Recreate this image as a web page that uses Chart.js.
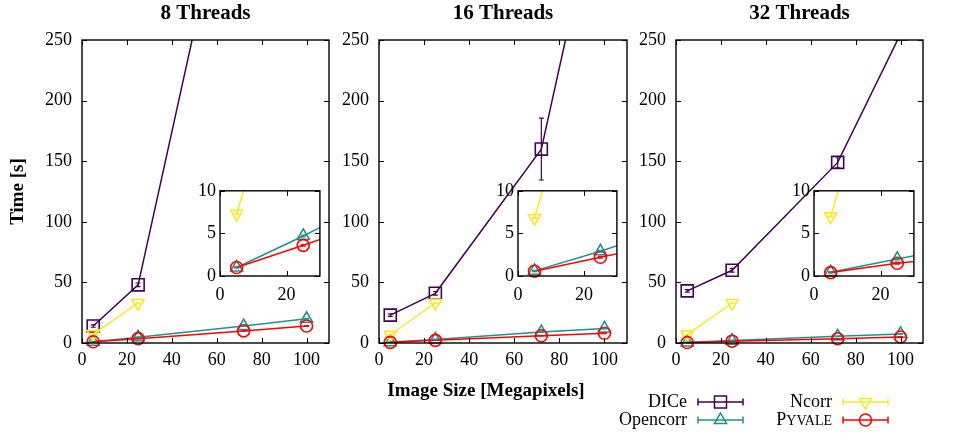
<!DOCTYPE html>
<html>
<head>
<meta charset="utf-8">
<script src="https://cdn.jsdelivr.net/npm/chart.js@4.4.0/dist/chart.umd.min.js"></script>
<style>
  body { margin: 0; background: #fff; width: 963px; height: 435px; position: relative; overflow: hidden; }
  canvas { position: absolute; }
  #xtitle { position: absolute; left: 336px; width: 300px; top: 378px; text-align: center;
            font: bold 19px "Liberation Serif", serif; color: #000; line-height: 24px; }
</style>
</head>
<body>
<canvas id="p8" width="340" height="435" style="left:0;top:0"></canvas>
<canvas id="p16" width="310" height="435" style="left:330px;top:0"></canvas>
<canvas id="p32" width="367" height="435" style="left:596px;top:0"></canvas>
<canvas id="i8" width="150" height="130" style="left:180px;top:176px"></canvas>
<canvas id="i16" width="149" height="130" style="left:478px;top:176px"></canvas>
<canvas id="i32" width="150" height="130" style="left:774px;top:176px"></canvas>
<div id="xtitle">Image Size [Megapixels]</div>
<script>
// image sizes (megapixels); Ncorr only ran the two small ones
const sizes = [5, 25, 72, 100];
const ncorrSizes = [5, 25];

// 8 threads
const dice8 = [14, 48, 443, 600];
const opencorr8 = [1.0, 4.7, 14, 20];
const ncorr8 = [7.3, 33];
const pyvale8 = [1.0, 3.6, 10, 14];

// 16 threads
const dice16 = [23, 41, 160, 395];
const opencorr16 = [0.6, 2.9, 9, 12];
const ncorr16 = [6.8, 33];
const pyvale16 = [0.55, 2.2, 6, 8];

// 32 threads
const dice32 = [43, 60, 149, 255];
const opencorr32 = [0.45, 2.0, 5.5, 7.5];
const ncorr32 = [7.0, 33];
const pyvale32 = [0.4, 1.5, 3.5, 5];

// error bars (+/-)
const diceErr8 = [1, 1.5, 4, 4];
const diceErr16 = [1, 1.5, 25.5, 5];
const diceErr32 = [1, 1.5, 4.5, 3];
const smallErr = [0.05, 0.1, 0.2, 0.3];

const series = {
  DICe:     { color: '#440154', style: 'rect', radius: 8.5, rotation: 0 },
  Opencorr: { color: '#21918c', style: 'triangle', radius: 7, rotation: 0 },
  Ncorr:    { color: '#fde725', style: 'triangle', radius: 7, rotation: 180 },
  Pyvale:   { color: '#ff0000', style: 'circle', radius: 6, rotation: 0 }
};

const tickFont = { family: 'Liberation Serif', size: 18 };

function pts(xs, ys) {
  return ys.map((y, i) => ({ x: xs[i], y: y }));
}

function ds(name, xs, ys, errs) {
  const s = series[name];
  return {
    label: name,
    data: pts(xs, ys),
    errors: errs,
    borderColor: s.color,
    backgroundColor: 'transparent',
    borderWidth: 1.5,
    pointStyle: s.style,
    pointRadius: s.radius,
    pointRotation: s.rotation,
    pointBorderWidth: 1.6,
    pointBackgroundColor: 'transparent',
    pointBorderColor: s.color,
    tension: 0,
    clip: { left: 10, top: 0, right: 0, bottom: 10 }
  };
}

function buildSets(dice, diceErr, opencorr, ncorr, pyvale) {
  return [
    ds('Pyvale', sizes, pyvale, smallErr),
    ds('Ncorr', ncorrSizes, ncorr, smallErr),
    ds('Opencorr', sizes, opencorr, smallErr),
    ds('DICe', sizes, dice, diceErr)
  ];
}

// box round the plot with inward tick marks on all four sides
const frame = {
  id: 'frame',
  beforeDraw(chart, args, opts) {
    if (!opts.fill) return;
    const a = chart.chartArea;
    chart.ctx.save();
    chart.ctx.fillStyle = '#fff';
    chart.ctx.fillRect(a.left, a.top, a.width, a.height);
    chart.ctx.restore();
  },
  afterDraw(chart) {
    const ctx = chart.ctx, a = chart.chartArea, sx = chart.scales.x, sy = chart.scales.y;
    ctx.save();
    ctx.strokeStyle = '#000';
    ctx.lineWidth = 1;
    ctx.beginPath();
    sx.ticks.forEach(t => {
      const x = Math.round(sx.getPixelForValue(t.value)) + 0.5;
      ctx.moveTo(x, a.bottom); ctx.lineTo(x, a.bottom - 5);
      ctx.moveTo(x, a.top); ctx.lineTo(x, a.top + 5);
    });
    sy.ticks.forEach(t => {
      const y = Math.round(sy.getPixelForValue(t.value)) + 0.5;
      ctx.moveTo(a.left, y); ctx.lineTo(a.left + 5, y);
      ctx.moveTo(a.right, y); ctx.lineTo(a.right - 5, y);
    });
    ctx.stroke();
    ctx.lineWidth = 1.4;
    ctx.strokeRect(a.left, a.top, a.width, a.height);
    ctx.restore();
  }
};

const errorBars = {
  id: 'errorBars',
  afterDatasetsDraw(chart) {
    const ctx = chart.ctx, a = chart.chartArea, sx = chart.scales.x, sy = chart.scales.y;
    ctx.save();
    ctx.beginPath();
    ctx.rect(a.left, a.top, a.width, a.height + 10);
    ctx.clip();
    chart.data.datasets.forEach(d => {
      ctx.strokeStyle = d.borderColor;
      ctx.lineWidth = 1.2;
      d.data.forEach((p, i) => {
        const e = d.errors[i];
        const x = sx.getPixelForValue(p.x);
        const y1 = sy.getPixelForValue(p.y - e), y2 = sy.getPixelForValue(p.y + e);
        ctx.beginPath();
        ctx.moveTo(x, y1); ctx.lineTo(x, y2);
        ctx.moveTo(x - 2.5, y1); ctx.lineTo(x + 2.5, y1);
        ctx.moveTo(x - 2.5, y2); ctx.lineTo(x + 2.5, y2);
        ctx.stroke();
      });
    });
    ctx.restore();
  }
};

// gnuplot-like key, drawn into the 32-thread canvas
const keyBox = {
  id: 'keyBox',
  afterDraw(chart) {
    const ctx = chart.ctx;
    const rows = [
      { name: 'DICe', tx: 91, y: 402 },
      { name: 'Opencorr', tx: 91, y: 420 },
      { name: 'Ncorr', tx: 236, y: 402 },
      { name: 'Pyvale', tx: 236, y: 420 }
    ];
    ctx.save();
    rows.forEach(r => {
      const s = series[r.name];
      ctx.fillStyle = '#000';
      ctx.textBaseline = 'middle';
      if (r.name === 'Pyvale') {
        ctx.font = '14px "Liberation Serif"';
        const w2 = ctx.measureText('YVALE').width;
        ctx.font = '18px "Liberation Serif"';
        const w1 = ctx.measureText('P').width;
        ctx.textAlign = 'left';
        ctx.fillText('P', r.tx - w1 - w2, r.y);
        ctx.font = '14px "Liberation Serif"';
        ctx.fillText('YVALE', r.tx - w2, r.y + 1);
      } else {
        ctx.font = '18px "Liberation Serif"';
        ctx.textAlign = 'right';
        ctx.fillText(r.name, r.tx, r.y);
      }
      const x1 = r.tx + 11, x2 = r.tx + 56, xm = (x1 + x2) / 2;
      ctx.strokeStyle = s.color;
      ctx.lineWidth = 1.5;
      ctx.beginPath();
      ctx.moveTo(x1, r.y); ctx.lineTo(x2, r.y);
      ctx.moveTo(x1, r.y - 3.5); ctx.lineTo(x1, r.y + 3.5);
      ctx.moveTo(x2, r.y - 3.5); ctx.lineTo(x2, r.y + 3.5);
      ctx.moveTo(xm - 2, r.y); ctx.lineTo(xm + 2, r.y);
      ctx.stroke();
      ctx.fillStyle = 'rgba(0,0,0,0)';
      Chart.helpers.drawPoint(ctx, { pointStyle: s.style, radius: s.radius, rotation: s.rotation, borderWidth: 1.6 }, xm, r.y);
    });
    ctx.restore();
  }
};

function mainChart(id, title, sets, yWidth, padRight, yTitle, extra) {
  return new Chart(document.getElementById(id), {
    type: 'line',
    data: { datasets: sets },
    options: {
      responsive: false,
      animation: false,
      devicePixelRatio: 1,
      layout: { padding: { left: 0, right: padRight, top: 0, bottom: 0 } },
      plugins: {
        legend: { display: false },
        tooltip: { enabled: false },
        title: {
          display: true, text: title, fullSize: false, color: '#000',
          font: { family: 'Liberation Serif', size: 21, weight: 'bold' },
          padding: { top: 1, bottom: 13.8 }
        }
      },
      scales: {
        x: {
          type: 'linear', min: 0, max: 110,
          afterFit: s => { s.height = 92; },
          grid: { display: false, drawTicks: false },
          border: { display: false },
          ticks: { stepSize: 20, includeBounds: false, padding: 6, color: '#000', font: tickFont, maxRotation: 0 }
        },
        y: {
          type: 'linear', min: 0, max: 250,
          afterFit: s => { s.width = yWidth; },
          grid: { display: false, drawTicks: false },
          border: { display: false },
          ticks: { stepSize: 50, padding: 10, color: '#000', font: tickFont },
          title: {
            display: yTitle, text: 'Time [s]', color: '#000',
            font: { family: 'Liberation Serif', size: 19, weight: 'bold' },
            padding: { top: 6.6, bottom: 0 }
          }
        }
      }
    },
    plugins: [frame, errorBars].concat(extra || [])
  });
}

function insetChart(id, sets) {
  return new Chart(document.getElementById(id), {
    type: 'line',
    data: { datasets: sets },
    options: {
      responsive: false,
      animation: false,
      devicePixelRatio: 1,
      layout: { padding: { left: 0, right: 10, top: 10, bottom: 0 } },
      plugins: { legend: { display: false }, tooltip: { enabled: false }, frame: { fill: true } },
      scales: {
        x: {
          type: 'linear', min: 0, max: 30,
          afterFit: s => { s.height = 30; },
          grid: { display: false, drawTicks: false },
          border: { display: false },
          ticks: { stepSize: 20, includeBounds: false, padding: 8, color: '#000', font: tickFont, maxRotation: 0 }
        },
        y: {
          type: 'linear', min: 0, max: 10,
          afterFit: s => { s.width = 40; },
          grid: { display: false, drawTicks: false },
          border: { display: false },
          ticks: { stepSize: 5, padding: 4, color: '#000', font: tickFont }
        }
      }
    },
    plugins: [frame, errorBars]
  });
}

mainChart('p8', '8 Threads', buildSets(dice8, diceErr8, opencorr8, ncorr8, pyvale8), 82, 11, true);
mainChart('p16', '16 Threads', buildSets(dice16, diceErr16, opencorr16, ncorr16, pyvale16), 49, 13, false);
mainChart('p32', '32 Threads', buildSets(dice32, diceErr32, opencorr32, ncorr32, pyvale32), 80, 40, false, [keyBox]);

insetChart('i8', buildSets(dice8, diceErr8, opencorr8, ncorr8, pyvale8));
insetChart('i16', buildSets(dice16, diceErr16, opencorr16, ncorr16, pyvale16));
insetChart('i32', buildSets(dice32, diceErr32, opencorr32, ncorr32, pyvale32));
</script>
</body>
</html>
